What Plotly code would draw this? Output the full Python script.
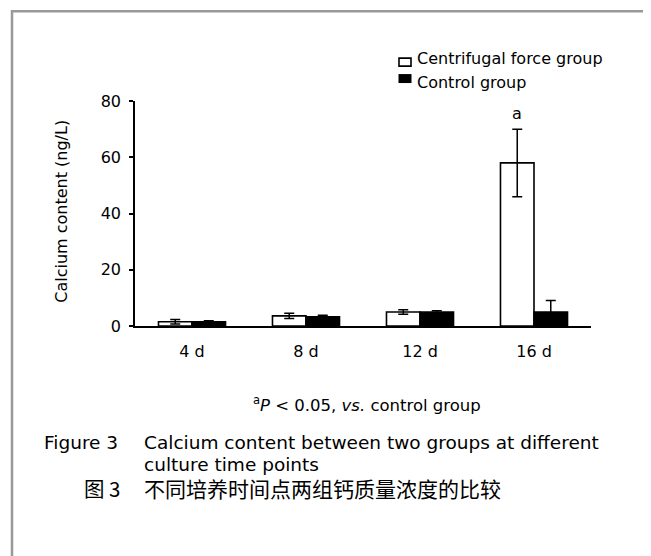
import plotly.graph_objects as go

categories = ["4 d", "8 d", "12 d", "16 d"]
centrifugal_mean = [1.5, 3.6, 5.0, 58.0]
centrifugal_sd = [0.8, 0.9, 0.8, 12.0]
control_mean = [1.5, 3.3, 5.0, 5.0]
control_sd = [0.4, 0.5, 0.4, 4.1]
y_ticks = [0, 20, 40, 60, 80]
series_names = ["Centrifugal force group", "Control group"]

# page body has an 8px margin, so the figure is drawn 8px in from the window edge
OFF = 8
W, H = 651 - OFF, 556 - OFF
L, R, T, B = 135 - OFF, 60, 101 - OFF, 229.5
PW, PH = W - L - R, H - T - B


def px(x):
    return (x - OFF - L) / PW


def py(y):
    return (H - B - (y - OFF)) / PH


FONT = "DejaVu Sans"
CJK = "Noto Sans CJK SC"
fig = go.Figure()
fig.add_trace(go.Bar(
    x=categories, y=centrifugal_mean, name=series_names[0],
    marker=dict(color="white", line=dict(color="black", width=1.6)),
    error_y=dict(type="data", array=centrifugal_sd, color="black", thickness=1.5, width=5),
    showlegend=False,
))
fig.add_trace(go.Bar(
    x=categories, y=control_mean, name=series_names[1],
    marker=dict(color="black", line=dict(color="black", width=1.6)),
    error_y=dict(type="data", array=control_sd, color="black", thickness=1.5, width=5),
    showlegend=False,
))

fig.update_layout(
    width=W, height=H,
    margin=dict(l=L, r=R, t=T, b=B, pad=0),
    paper_bgcolor="white", plot_bgcolor="white",
    barmode="group", bargap=0.412, bargroupgap=0,
    font=dict(family=FONT, size=16, color="black"),
    xaxis=dict(
        type="category", range=[-0.5, 3.5], showline=True, linecolor="black", linewidth=1.6,
        ticks="", showgrid=False, zeroline=False, ticklabelstandoff=10,
        tickfont=dict(family=FONT, size=16),
    ),
    yaxis=dict(
        range=[0, 80], tickvals=y_ticks, showline=True, linecolor="black", linewidth=1.6,
        ticks="outside", ticklen=4, tickwidth=1.5, tickcolor="black",
        showgrid=False, zeroline=False, ticklabelstandoff=5,
        tickfont=dict(family=FONT, size=16),
    ),
)

shapes = [
    dict(type="rect", xref="paper", yref="paper", x0=px(12), x1=px(648), y0=py(11), y1=py(580),
         line=dict(color="#999999", width=2.5), fillcolor="rgba(0,0,0,0)", layer="below"),
    dict(type="rect", xref="paper", yref="paper", x0=px(399), x1=px(411), y0=py(58), y1=py(66),
         line=dict(color="black", width=1.6), fillcolor="white"),
    dict(type="rect", xref="paper", yref="paper", x0=px(398.5), x1=px(411.5), y0=py(74), y1=py(83),
         line=dict(color="black", width=0), fillcolor="black"),
]
fig.update_layout(shapes=shapes)

ann = []


def text(x, y, s, size=16, anchor="left", family=FONT, angle=0):
    ann.append(dict(xref="paper", yref="paper", x=px(x), y=py(y), text=s, showarrow=False,
                    xanchor=anchor, yanchor="middle", textangle=angle,
                    font=dict(family=family, size=size, color="black")))


text(415, 58, series_names[0])
text(415, 82, series_names[1])
text(62, 212, "Calcium content (ng/L)", anchor="center", angle=-90)
ann.append(dict(x=categories[3], y=centrifugal_mean[3] + centrifugal_sd[3], xref="x", yref="y",
                xshift=-17, yshift=4, text="a", showarrow=False, yanchor="bottom",
                font=dict(family=FONT, size=16, color="black")))
text(367, 405, "<sup>a</sup><i>P</i> < 0.05, <i>vs.</i> control group", size=16.5, anchor="center")
text(42, 443, "Figure 3", size=18.5)
text(142, 443, "Calcium content between two groups at different", size=18.5)
text(142, 465, "culture time points", size=18.5)
text(82, 489, "图 3", family=CJK, size=20.5)
text(142, 489, "不同培养时间点两组钙质量浓度的比较", family=CJK, size=21)
fig.update_layout(annotations=ann)

fig.write_html("out.html")
